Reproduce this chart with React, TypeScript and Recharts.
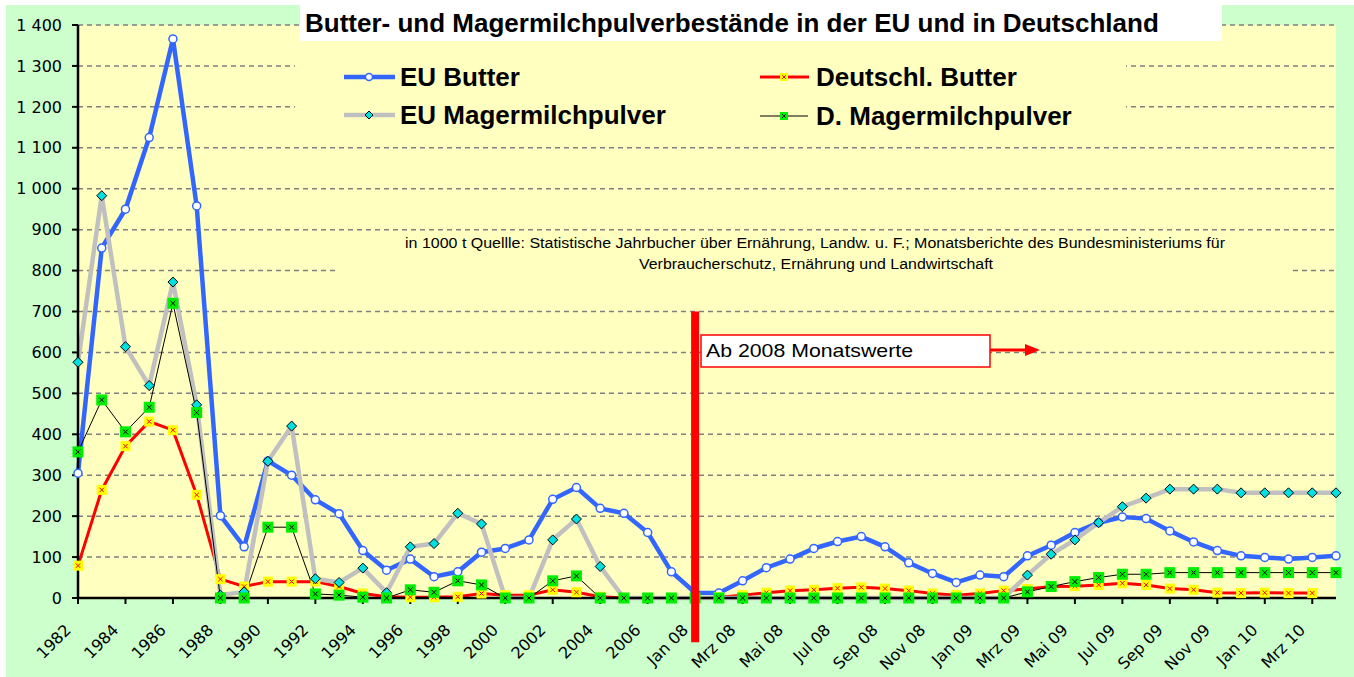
import React from "react";
import { CartesianGrid, Line, LineChart, ReferenceLine, XAxis, YAxis } from "recharts";

const years = [
  "1982", "1983", "1984", "1985", "1986", "1987", "1988", "1989", "1990", "1991", "1992", "1993", "1994",
  "1995", "1996", "1997", "1998", "1999", "2000", "2001", "2002", "2003", "2004", "2005", "2006", "2007",
];
const months = [
  "Jan 08", "Feb 08", "Mrz 08", "Apr 08", "Mai 08", "Jun 08", "Jul 08", "Aug 08", "Sep 08", "Okt 08", "Nov 08", "Dez 08",
  "Jan 09", "Feb 09", "Mrz 09", "Apr 09", "Mai 09", "Jun 09", "Jul 09", "Aug 09", "Sep 09", "Okt 09", "Nov 09", "Dez 09",
  "Jan 10", "Feb 10", "Mrz 10", "Apr 10",
];
const categories = [...years, ...months];

// in 1000 t
const euButter = [
  305, 855, 950, 1125, 1366, 958, 201, 125, 335, 300, 240, 206, 116, 68, 95, 52, 64, 112, 121, 142, 241, 270, 219, 207, 160, 64,
  13, 12, 42, 74, 95, 121, 138, 150, 125, 86, 60, 38, 56, 52, 103, 129, 160, 184, 198, 194, 164, 137, 116, 103, 99, 95, 99, 103,
];
const dButter: (number | null)[] = [
  79, 264, 371, 431, 410, 252, 46, 28, 40, 40, 40, 28, 11, 3, 2, 2, 3, 11, 7, 7, 20, 14, 3, 0, 0, 0,
  0, 2, 7, 13, 18, 20, 24, 26, 23, 18, 11, 7, 11, 18, 22, 28, 29, 32, 36, 32, 23, 20, 13, 12, 13, 12, 12, null,
];
const euMmp = [
  576, 983, 614, 519, 772, 472, 7, 15, 334, 420, 47, 38, 73, 13, 125, 133, 207, 181, 0, 0, 142, 193, 77, 0, 0, 0,
  0, 0, 0, 0, 0, 0, 0, 0, 0, 0, 0, 0, 0, 0, 56, 107, 142, 184, 223, 244, 266, 266, 266, 257, 257, 257, 257, 257,
];
const dMmp = [
  357, 484, 406, 466, 720, 453, 0, 0, 173, 173, 10, 7, 2, 0, 20, 14, 42, 32, 0, 0, 42, 54, 0, 0, 0, 0,
  0, 0, 0, 0, 0, 0, 0, 0, 0, 0, 0, 0, 0, 0, 15, 28, 40, 50, 58, 58, 62, 62, 62, 62, 62, 62, 62, 62,
];
const yTicks = [0, 100, 200, 300, 400, 500, 600, 700, 800, 900, 1000, 1100, 1200, 1300, 1400];

const rows = categories.map((label, i) => ({
  label,
  euButter: euButter[i],
  dButter: dButter[i],
  euMmp: euMmp[i],
  dMmp: dMmp[i],
}));

const YELLOW = "#ffffc0";
const BLUE = "#3366ff";
const GRAY = "#c0c0c0";
const CYAN = "#00e0e0";
const AXIS_FONT = "'DejaVu Sans', Verdana, sans-serif";
const BOLD_FONT = "'Liberation Sans', Arial, sans-serif";

const fmtY = (v: number) => (v >= 1000 ? `${Math.floor(v / 1000)} ${String(v % 1000).padStart(3, "0")}` : String(v));

function BlueDot({ cx, cy, index }: any) {
  if (cx == null || cy == null) return <g key={`eb${index}`} />;
  return <circle key={`eb${index}`} cx={cx} cy={cy} r={4} fill="#fff" stroke={BLUE} strokeWidth={1.5} />;
}

function Diamond({ cx, cy, s }: { cx: number; cy: number; s: number }) {
  return (
    <polygon
      points={`${cx},${cy - s} ${cx + s},${cy} ${cx},${cy + s} ${cx - s},${cy}`}
      fill={CYAN}
      stroke="#000"
      strokeWidth={1}
    />
  );
}

function CyanDot({ cx, cy, index }: any) {
  if (cx == null || cy == null) return <g key={`em${index}`} />;
  return (
    <g key={`em${index}`}>
      <Diamond cx={cx} cy={cy} s={5} />
    </g>
  );
}

function Square({ cx, cy, s, fill, cross }: { cx: number; cy: number; s: number; fill: string; cross: string }) {
  const c = s * 0.22;
  return (
    <g>
      <rect x={cx - s / 2} y={cy - s / 2} width={s} height={s} fill={fill} />
      <line x1={cx - c} y1={cy - c} x2={cx + c} y2={cy + c} stroke={cross} strokeWidth={1} />
      <line x1={cx - c} y1={cy + c} x2={cx + c} y2={cy - c} stroke={cross} strokeWidth={1} />
    </g>
  );
}

function YellowDot({ cx, cy, index, value }: any) {
  if (cx == null || cy == null || value == null) return <g key={`db${index}`} />;
  return (
    <g key={`db${index}`}>
      <Square cx={cx} cy={cy} s={10} fill="#ffff00" cross="#ff0000" />
    </g>
  );
}

function GreenDot({ cx, cy, index }: any) {
  if (cx == null || cy == null) return <g key={`dm${index}`} />;
  return (
    <g key={`dm${index}`}>
      <Square cx={cx} cy={cy} s={11} fill="#00ee00" cross="#000" />
    </g>
  );
}

function XTick({ x, y, payload }: any) {
  return (
    <g transform={`translate(${x - 6},${y + 25}) rotate(-45)`}>
      <text x={0} y={0} textAnchor="end" fontSize={16} fontFamily={AXIS_FONT} fill="#000">
        {payload.value}
      </text>
    </g>
  );
}

function LegendItem({ x, y, label, kind }: { x: number; y: number; label: string; kind: string }) {
  let line: React.ReactNode;
  let mark: React.ReactNode;
  if (kind === "eb") {
    line = <line x1={x} y1={y} x2={x + 51} y2={y} stroke={BLUE} strokeWidth={4.5} />;
    mark = <circle cx={x + 25} cy={y} r={3.5} fill="#fff" stroke={BLUE} strokeWidth={1.5} />;
  } else if (kind === "em") {
    line = <line x1={x} y1={y} x2={x + 51} y2={y} stroke={GRAY} strokeWidth={4.5} />;
    mark = <Diamond cx={x + 25} cy={y} s={4} />;
  } else if (kind === "db") {
    line = <line x1={x} y1={y} x2={x + 49} y2={y} stroke="#ff0000" strokeWidth={3} />;
    mark = <Square cx={x + 24} cy={y} s={8} fill="#ffff00" cross="#ff0000" />;
  } else {
    line = <line x1={x} y1={y} x2={x + 48} y2={y} stroke="#000" strokeWidth={1.2} />;
    mark = <Square cx={x + 24} cy={y} s={8} fill="#00ee00" cross="#000" />;
  }
  return (
    <g>
      {line}
      {mark}
      <text x={x + 56} y={y + 9} fontFamily={BOLD_FONT} fontWeight="bold" fontSize={26} fill="#000">
        {label}
      </text>
    </g>
  );
}

export default function App() {
  return (
    <div style={{ position: "absolute", left: 0, top: 0, width: 1354, height: 677, background: "#fff" }}>
      <div style={{ position: "absolute", left: 6, top: 5, width: 1348, height: 672, background: "#ccffcc" }} />
      <div style={{ position: "absolute", left: 0, top: 0 }}>
        <LineChart width={1354} height={677} data={rows} margin={{ top: 25, right: 18, bottom: 4, left: 8 }}>
          <CartesianGrid
            vertical={false}
            fill={YELLOW}
            fillOpacity={1}
            stroke="#808080"
            strokeWidth={1.5}
            strokeDasharray="5 4"
          />
          <XAxis
            dataKey="label"
            interval={1}
            height={75}
            tick={<XTick />}
            tickSize={6}
            axisLine={{ stroke: "#000", strokeWidth: 2.5 }}
            tickLine={{ stroke: "#000", strokeWidth: 2 }}
          />
          <YAxis
            domain={[0, 1400]}
            ticks={yTicks}
            tickFormatter={fmtY}
            width={70}
            tickSize={6}
            tickMargin={10}
            tick={{ fontSize: 16, fill: "#000", fontFamily: AXIS_FONT }}
            axisLine={{ stroke: "#000", strokeWidth: 2.5 }}
            tickLine={{ stroke: "#000", strokeWidth: 2 }}
          />
          <Line
            dataKey="euButter"
            type="linear"
            stroke={BLUE}
            strokeWidth={4.5}
            dot={(p: any) => <BlueDot {...p} />}
            isAnimationActive={false}
          />
          <Line
            dataKey="dButter"
            type="linear"
            stroke="#ff0000"
            strokeWidth={3}
            dot={(p: any) => <YellowDot {...p} />}
            isAnimationActive={false}
          />
          <Line
            dataKey="euMmp"
            type="linear"
            stroke={GRAY}
            strokeWidth={4.5}
            dot={(p: any) => <CyanDot {...p} />}
            isAnimationActive={false}
          />
          <Line
            dataKey="dMmp"
            type="linear"
            stroke="#000"
            strokeWidth={1}
            dot={(p: any) => <GreenDot {...p} />}
            isAnimationActive={false}
          />
          <ReferenceLine
            segment={[
              { x: "Jan 08", y: 700 },
              { x: "Jan 08", y: -108 },
            ]}
            stroke="#ff0000"
            strokeWidth={8}
            ifOverflow="visible"
            {...({ zIndex: 2000 } as any)}
          />
        </LineChart>
      </div>
      <svg width={1354} height={677} style={{ position: "absolute", left: 0, top: 0, pointerEvents: "none" }}>
        <rect x={300} y={0} width={922} height={41} fill="#fff" />
        <text x={305} y={32} fontFamily={BOLD_FONT} fontWeight="bold" fontSize={26} fill="#000">
          Butter- und Magermilchpulverbestände in der EU und in Deutschland
        </text>
        <rect x={295} y={42} width={831} height={96} fill={YELLOW} />
        <LegendItem x={344} y={77} label="EU Butter" kind="eb" />
        <LegendItem x={344} y={115} label="EU Magermilchpulver" kind="em" />
        <LegendItem x={760} y={77} label="Deutschl. Butter" kind="db" />
        <LegendItem x={760} y={116} label="D. Magermilchpulver" kind="dm" />
        <rect x={337} y={236} width={956} height={56} fill={YELLOW} />
        <text x={405} y={248} fontFamily={BOLD_FONT} fontSize={14} fill="#000" textLength={820} lengthAdjust="spacingAndGlyphs">
          in 1000 t Quellle: Statistische Jahrbucher über Ernährung, Landw. u. F.;  Monatsberichte des Bundesministeriums für
        </text>
        <text x={639} y={269} fontFamily={BOLD_FONT} fontSize={14} fill="#000" textLength={354} lengthAdjust="spacingAndGlyphs">
          Verbraucherschutz, Ernährung und Landwirtschaft
        </text>
        <rect x={701} y={335} width={289} height={32} fill="#fff" stroke="#ff0000" strokeWidth={1.5} />
        <text x={706} y={357} fontFamily={BOLD_FONT} fontSize={19} fill="#000" textLength={207} lengthAdjust="spacingAndGlyphs">
          Ab 2008 Monatswerte
        </text>
        <line x1={990} y1={350} x2={1028} y2={350} stroke="#ff0000" strokeWidth={3} />
        <polygon points="1025,344 1040,350 1025,356" fill="#ff0000" />
      </svg>
    </div>
  );
}
